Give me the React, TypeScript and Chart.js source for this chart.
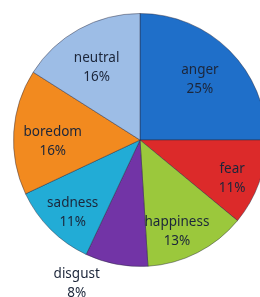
import React, { useEffect, useRef } from "react";
import { Chart, registerables } from "chart.js";

Chart.register(...registerables);

const categories = ["anger", "fear", "happiness", "disgust", "sadness", "boredom", "neutral"];
const percentages = [25, 11, 13, 8, 11, 16, 16];
const sliceColors = ["#1f6fc9", "#dc2a2a", "#9bc83c", "#7234a6", "#22acd6", "#f28a1f", "#9dbde6"];

// label placement (fraction of radius, angular shift in degrees)
const labelRadius = [0.67, 0.79, 0.78, 1.24, 0.78, 0.69, 0.67];
const labelShift = [0, 3, 5, 13, -2, -5, -2];

const labelPlugin = {
  id: "sliceLabels",
  afterDatasetsDraw(chart: any) {
    const ctx = chart.ctx;
    const meta = chart.getDatasetMeta(0);
    ctx.save();
    ctx.font = "13.5px 'Noto Sans'";
    ctx.fillStyle = "#1c263a";
    ctx.textAlign = "center";
    ctx.textBaseline = "middle";
    meta.data.forEach((arc: any, i: number) => {
      const { x, y, startAngle, endAngle, outerRadius } = arc.getProps(
        ["x", "y", "startAngle", "endAngle", "outerRadius"],
        true
      );
      const a = (startAngle + endAngle) / 2 + (labelShift[i] * Math.PI) / 180;
      const r = outerRadius * labelRadius[i];
      const cx = x + Math.cos(a) * r;
      const cy = y + Math.sin(a) * r;
      ctx.fillText(categories[i], cx, cy - 9.5);
      ctx.fillText(percentages[i] + "%", cx, cy + 9.5);
    });
    ctx.restore();
  },
};

export default function App() {
  const ref = useRef<HTMLCanvasElement>(null);
  useEffect(() => {
    if (!ref.current) return;
    const chart = new Chart(ref.current, {
      type: "pie",
      data: {
        labels: categories,
        datasets: [
          {
            data: percentages,
            backgroundColor: sliceColors,
            borderColor: "rgba(40,40,60,0.45)",
            borderWidth: 1,
          },
        ],
      },
      options: {
        responsive: false,
        animation: false,
        devicePixelRatio: 1,
        layout: { padding: { top: 13, bottom: 30, left: 0, right: 0 } },
        plugins: {
          legend: { display: false },
          tooltip: { enabled: false },
        },
      },
      plugins: [labelPlugin],
    });
    return () => chart.destroy();
  }, []);
  return (
    <div
      style={{
        position: "fixed",
        left: 0,
        top: 0,
        width: 260,
        height: 297,
        overflow: "hidden",
        background: "#fff",
      }}
    >
      <canvas ref={ref} width={280} height={297} style={{ display: "block" }} />
    </div>
  );
}
